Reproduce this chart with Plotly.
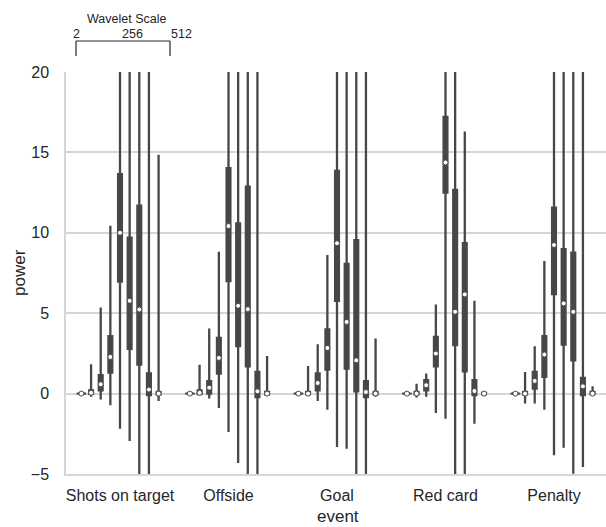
import plotly.graph_objects as go

events = ["Shots on target", "Offside", "Goal", "Red card", "Penalty"]
scales = [2, 4, 8, 16, 32, 64, 128, 256, 512]
scale_labels = ["2", "256", "512"]

# per scale: lists over events
q1 = {
    2:   [-0.02, -0.02, -0.02, -0.02, -0.02],
    4:   [-0.02, -0.03, -0.03, -0.05, -0.05],
    8:   [0.2, 0.0, 0.2, 0.2, 0.31],
    16:  [1.31, 1.25, 1.5, 1.7, 1.04],
    32:  [6.96, 7.0, 5.77, 12.5, 6.19],
    64:  [2.78, 2.95, 1.56, 3.01, 3.05],
    128: [1.81, 1.7, 0.14, 1.39, 2.07],
    256: [-0.1, -0.21, -0.21, -0.1, -0.1],
    512: [-0.05, -0.05, -0.05, -0.03, -0.03],
}
median = {
    2:   [0.0, 0.0, 0.0, 0.0, 0.0],
    4:   [0.05, 0.05, 0.0, 0.0, 0.0],
    8:   [0.58, 0.37, 0.66, 0.52, 0.79],
    16:  [2.28, 2.22, 2.84, 2.49, 2.43],
    32:  [10.0, 10.42, 9.35, 14.37, 9.24],
    64:  [5.77, 5.46, 4.46, 5.09, 5.61],
    128: [5.23, 5.25, 2.07, 6.17, 5.09],
    256: [0.25, 0.14, 0.1, 0.16, 0.45],
    512: [0.0, 0.0, 0.0, 0.0, 0.0],
}
q3 = {
    2:   [0.03, 0.03, 0.03, 0.03, 0.03],
    4:   [0.2, 0.2, 0.1, 0.1, 0.1],
    8:   [1.15, 0.78, 1.25, 0.83, 1.35],
    16:  [3.57, 3.47, 3.99, 3.53, 3.57],
    32:  [13.64, 14.02, 13.85, 17.2, 11.56],
    64:  [9.7, 10.59, 8.06, 12.67, 8.99],
    128: [11.69, 12.87, 9.55, 9.35, 8.76],
    256: [1.25, 1.35, 0.77, 0.83, 0.97],
    512: [0.1, 0.1, 0.1, 0.05, 0.1],
}
lower = {
    2:   [-0.05, -0.05, -0.05, -0.05, -0.05],
    4:   [-0.2, -0.1, -0.1, -0.25, -0.62],
    8:   [-0.37, -0.31, -0.46, -0.2, -0.62],
    16:  [-0.73, -0.9, -1.0, -1.21, -1.0],
    32:  [-2.18, -2.39, -3.32, -1.56, -3.84],
    64:  [-2.95, -4.32, -3.43, -7.5, -3.37],
    128: [-7.0, -7.0, -7.5, -8.0, -4.98],
    256: [-6.5, -6.8, -7.0, -1.87, -4.57],
    512: [-0.46, -0.1, -0.2, -0.05, -0.1],
}
upper = {
    2:   [0.1, 0.1, 0.1, 0.1, 0.1],
    4:   [1.83, 1.8, 1.72, 0.62, 1.35],
    8:   [5.36, 4.05, 3.07, 1.25, 2.95],
    16:  [10.44, 8.82, 8.62, 5.54, 8.24],
    32:  [26.0, 27.0, 25.5, 28.0, 24.5],
    64:  [24.0, 25.0, 23.0, 24.5, 23.5],
    128: [25.0, 24.0, 24.5, 16.3, 23.0],
    256: [22.5, 23.0, 22.0, 5.77, 22.5],
    512: [14.85, 2.34, 3.43, 0.1, 0.45],
}
# width of thin violin body at the median for the narrowest scales (category units)
sliver = {2: 0.09, 4: 0.05}

DARK = "#474747"
GRID = "#d6d6d6"
TEXT = "#262626"
FONT = "Liberation Sans, Arial, sans-serif"

n = len(scales)
step = 0.8 / n

fig = go.Figure()
for h, s in enumerate(scales):
    pos = [i + (h - (n - 1) / 2) * step for i in range(len(events))]
    if s in sliver:
        xs, ys = [], []
        for p, m in zip(pos, median[s]):
            xs += [p - sliver[s] / 2, p + sliver[s] / 2, None]
            ys += [m, m, None]
        fig.add_trace(go.Scatter(x=xs, y=ys, mode="lines",
                                 line=dict(color=DARK, width=2),
                                 showlegend=False, hoverinfo="skip"))
    fig.add_trace(go.Box(
        x=pos, q1=q1[s], median=median[s], q3=q3[s],
        lowerfence=lower[s], upperfence=upper[s],
        width=0.035, whiskerwidth=0, boxpoints=False,
        fillcolor=DARK, line=dict(color=DARK, width=2.3),
        name=str(s), showlegend=False,
    ))
    fig.add_trace(go.Scatter(
        x=pos, y=median[s], mode="markers",
        marker=dict(color="white", size=5, line=dict(color=DARK, width=1)),
        showlegend=False, hoverinfo="skip",
    ))

W, H = 606, 527
L, T, B = 66, 72, 53
plot_w = W - L
cat_px = 108.5
xmin = -54 / cat_px
xmax = xmin + plot_w / cat_px
plot_h = H - T - B

def px(x):
    return (x - L) / plot_w

def py(y):
    return (H - B - y) / plot_h

# Wavelet scale bracket
bx0, bx1 = px(76), px(170)
by_top, by_bot = py(41), py(56)
for shape in [
    dict(x0=bx0, x1=bx1, y0=by_top, y1=by_top),
    dict(x0=bx0, x1=bx0, y0=by_top, y1=by_bot),
    dict(x0=bx1, x1=bx1, y0=by_top, y1=by_bot),
]:
    fig.add_shape(type="line", xref="paper", yref="paper",
                  line=dict(color=TEXT, width=1.2), **shape)

fig.add_annotation(text="Wavelet Scale", x=px(126), y=py(19), xref="paper", yref="paper",
                   xanchor="center", yanchor="middle", showarrow=False,
                   font=dict(size=12.5, color=TEXT, family=FONT))
label_pos = [(76, "center"), (132, "center"), (169, "left")]
for lab, (lx, anc) in zip(scale_labels, label_pos):
    fig.add_annotation(text=lab, x=px(lx), y=py(33.5), xref="paper", yref="paper",
                       xanchor=anc, yanchor="middle", showarrow=False,
                       font=dict(size=12.5, color=TEXT, family=FONT))

# axis titles
fig.add_annotation(text="power", x=px(19), y=py(273), xref="paper", yref="paper",
                   xanchor="center", yanchor="middle",
                   textangle=-90, showarrow=False,
                   font=dict(size=17, color=TEXT, family=FONT))
fig.add_annotation(text="event", x=px(338), y=py(516), xref="paper", yref="paper",
                   xanchor="center", yanchor="middle",
                   showarrow=False, font=dict(size=17, color=TEXT, family=FONT))

fig.update_layout(
    template="none",
    width=W, height=H,
    margin=dict(l=L, r=0, t=T, b=B, autoexpand=False),
    plot_bgcolor="white", paper_bgcolor="white",
    boxmode="overlay", showlegend=False,
    font=dict(family=FONT, size=16, color=TEXT),
    xaxis=dict(
        range=[xmin, xmax], tickmode="array", automargin=False,
        tickvals=list(range(len(events))), ticktext=events,
        showgrid=False, zeroline=False,
        showline=True, linecolor=GRID, linewidth=1.5,
        ticks="", ticklen=0, ticklabelstandoff=6,
        tickfont=dict(size=16, color=TEXT),
    ),
    yaxis=dict(
        range=[-5, 20], tickvals=[-5, 0, 5, 10, 15, 20], automargin=False,
        ticktext=["\u22125", "0", "5", "10", "15", "20"],
        showgrid=True, gridcolor=GRID, gridwidth=1.5,
        zeroline=False, showline=True, linecolor=GRID, linewidth=1.5,
        ticks="", ticklen=0, ticklabelstandoff=12,
        tickfont=dict(size=16, color=TEXT),
    ),
)

fig.write_html("out.html", config={"displayModeBar": False},
               post_script="document.body.style.margin='0';")
